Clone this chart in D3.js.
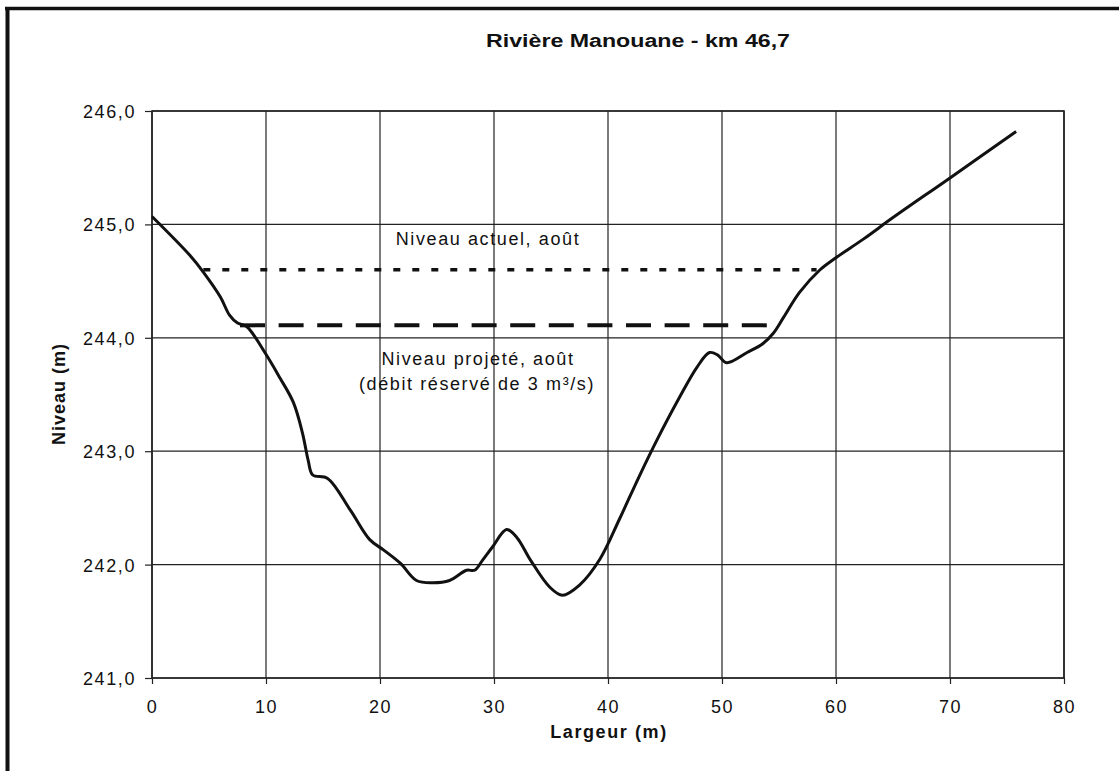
<!DOCTYPE html>
<html><head><meta charset="utf-8">
<script src="https://cdn.jsdelivr.net/npm/d3@7"></script>
<style>
body{margin:0;background:#fff;}
svg{display:block;}
text{font-family:Arial,"Liberation Sans",sans-serif;fill:#111;}
</style></head>
<body><svg id="c" width="1119" height="771"></svg>
<script>
const title = "Rivière Manouane - km 46,7";
const xTicks = [0,10,20,30,40,50,60,70,80];
const yTicks = [241,242,243,244,245,246];
const profileX = [0,3.3,4.5,6.0,6.8,7.5,8.3,9.9,11.2,12.4,13.2,13.7,14.1,15.4,17.4,19.1,20.3,21.8,23.2,24.6,26.1,27.6,28.3,29.0,29.9,31.1,32.0,33.2,34.9,36.0,37.5,39.3,41.0,42.7,44.3,46.3,47.8,48.9,49.6,50.4,52.2,53.6,54.5,55.4,56.8,58.6,59.9,62.4,65,70,75.8];
const profileY = [245.07,244.73,244.58,244.36,244.2,244.13,244.1,243.87,243.65,243.43,243.16,242.92,242.79,242.76,242.48,242.22,242.13,242.01,241.86,241.84,241.86,241.95,241.95,242.04,242.16,242.31,242.24,242.04,241.8,241.73,241.82,242.05,242.4,242.77,243.1,243.48,243.74,243.87,243.85,243.78,243.87,243.95,244.04,244.18,244.4,244.6,244.7,244.87,245.06,245.41,245.82];
const levelActuel = {x0:4.5, x1:58.3, y:244.6};
const levelProjete = {x0:7.72, x1:53.95, y:244.11};

const svg = d3.select("#c");
const L=152, R=1064, T=111, B=678;
const x = d3.scaleLinear().domain([0,80]).range([L,R]);
const y = d3.scaleLinear().domain([241,246]).range([B,T]);

// outer frame
svg.append("line").attr("x1",5).attr("x2",1119).attr("y1",8.5).attr("y2",8.5).attr("stroke","#111").attr("stroke-width",3.5);
svg.append("line").attr("x1",7.5).attr("x2",7.5).attr("y1",7).attr("y2",771).attr("stroke","#111").attr("stroke-width",4);

// grid
svg.append("g").selectAll("line").data(xTicks).join("line")
 .attr("x1",d=>x(d)).attr("x2",d=>x(d)).attr("y1",T).attr("y2",B)
 .attr("stroke","#222").attr("stroke-width",1.2);
svg.append("g").selectAll("line").data(yTicks).join("line")
 .attr("x1",L).attr("x2",R).attr("y1",d=>y(d)).attr("y2",d=>y(d))
 .attr("stroke","#222").attr("stroke-width",1.2);
svg.append("rect").attr("x",L).attr("y",T).attr("width",R-L).attr("height",B-T)
 .attr("fill","none").attr("stroke","#222").attr("stroke-width",1.6);

// axes
const xAxis = svg.append("g").attr("transform",`translate(0,${B})`)
 .call(d3.axisBottom(x).tickValues(xTicks).tickSize(6).tickPadding(16).tickFormat(d3.format("d")));
const yAxis = svg.append("g").attr("transform",`translate(${L},0)`)
 .call(d3.axisLeft(y).tickValues(yTicks).tickSize(7).tickPadding(9).tickFormat(d=>d.toFixed(1).replace(".",",")));
[xAxis,yAxis].forEach(a=>{
  a.select(".domain").remove();
  a.selectAll("line").attr("stroke","#222").attr("stroke-width",1.2);
  a.selectAll("text").attr("font-size",18).attr("letter-spacing","1.6px").attr("fill","#111")
   .style("font-family","Arial, 'Liberation Sans', sans-serif");
});
yAxis.selectAll("text").attr("dy","0.36em");

// levels
svg.append("line").attr("x1",x(levelActuel.x0)).attr("x2",x(levelActuel.x1))
 .attr("y1",y(levelActuel.y)).attr("y2",y(levelActuel.y))
 .attr("stroke","#111").attr("stroke-width",3.5).attr("stroke-dasharray","7,12");
svg.append("line").attr("x1",x(levelProjete.x0)).attr("x2",x(levelProjete.x1))
 .attr("y1",y(levelProjete.y)).attr("y2",y(levelProjete.y))
 .attr("stroke","#111").attr("stroke-width",4).attr("stroke-dasharray","25,13.6");

// profile
const pts = profileX.map((v,i)=>[v,profileY[i]]);
svg.append("path").datum(pts)
 .attr("d", d3.line().x(d=>x(d[0])).y(d=>y(d[1])).curve(d3.curveCatmullRom.alpha(0.5)))
 .attr("fill","none").attr("stroke","#111").attr("stroke-width",3).attr("stroke-linejoin","round");

// texts
svg.append("text").attr("x",638).attr("y",47).attr("text-anchor","middle")
 .attr("font-size",18).attr("font-weight","bold")
 .attr("textLength",304).attr("lengthAdjust","spacingAndGlyphs").text(title);
svg.append("text").attr("x",609).attr("y",738).attr("text-anchor","middle")
 .attr("font-size",18).attr("font-weight","bold").attr("letter-spacing","1.6px").text("Largeur (m)");
svg.append("text").attr("transform","translate(65,394) rotate(-90)").attr("text-anchor","middle")
 .attr("font-size",18).attr("font-weight","bold").attr("letter-spacing","1px").text("Niveau (m)");
svg.append("text").attr("x",488).attr("y",245).attr("text-anchor","middle")
 .attr("font-size",18).attr("letter-spacing","1.6px").text("Niveau actuel, août");
svg.append("text").attr("x",478).attr("y",365).attr("text-anchor","middle")
 .attr("font-size",18).attr("letter-spacing","1.6px").text("Niveau projeté, août");
svg.append("text").attr("x",477).attr("y",390).attr("text-anchor","middle")
 .attr("font-size",18).attr("letter-spacing","1.6px").text("(débit réservé de 3 m³/s)");
</script></body></html>
